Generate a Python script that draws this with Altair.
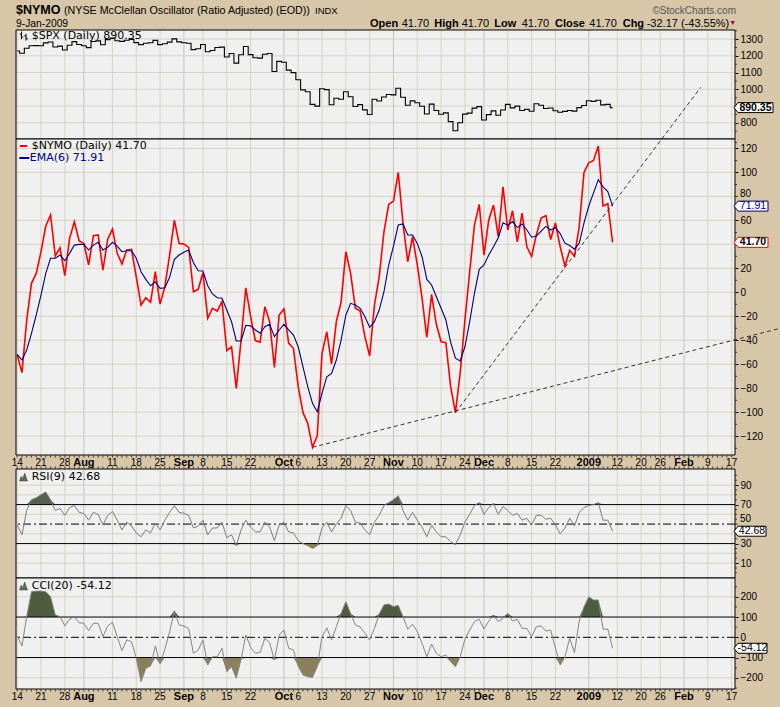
import altair as alt
import pandas as pd

# ---------------- data (trading days from 14-Jul-2008 to 9-Jan-2009) ----------------
nymo = [-52.3, -67.0, -23.1, 7.5, 15.8, 33.9, 55.3, 64.5, 30.3, 37.2,
        13.9, 45.0, 58.9, 43.1, 40.8, 22.8, 47.2, 47.8, 18.6, 44.2,
        52.8, 32.5, 23.6, 35.3, 35.8, 13.0, -10.6, -4.5, -8.3, 17.2,
        -9.8, 4.7, 31.1, 60.3, 40.8, 40.3, 37.5, 0.5, 2.5, 16.3,
        -21.7, -13.3, -15.6, -7.8, -48.7, -45.4, -80.1, -39.8, 3.8, -20.0,
        -40.2, -41.5, -12.0, -24.5, -62.6, -18.9, -13.9, -42.6, -46.7, -78.7,
        -100.4, -109.3, -129.3, -119.6, -50.9, -32.9, -59.8, -24.5, -8.3, 33.9,
        15.8, -13.3, -15.6, -37.0, -53.1, -10.6, 13.0, 50.5, 73.4, 76.1,
        100.1, 57.5, 25.5, 46.4, 22.8, -5.0, -37.5, -1.7, -26.7, -41.2,
        -42.0, -78.7, -100.4, -67.6, -23.1, 17.2, 56.1, 73.4, 31.1, 60.3,
        72.8, 46.4, 88.0, 52.0, 68.0, 42.0, 66.0, 38.0, 30.0, 48.0,
        62.0, 64.0, 44.0, 58.0, 38.0, 22.0, 35.0, 30.0, 55.0, 100.0,
        108.0, 110.0, 122.0, 72.0, 73.87, 41.70]

ema6 = [-51.7, -56.5, -48.1, -34.2, -18.9, -2.3, 15.8, 28.4, 28.4, 31.1,
        26.4, 32.5, 39.4, 40.0, 40.0, 35.3, 39.4, 41.7, 35.3, 37.5,
        41.7, 38.6, 33.9, 34.7, 34.7, 28.4, 17.2, 10.8, 5.5, 8.8,
        3.3, 3.8, 12.5, 27.5, 31.1, 33.4, 35.3, 24.7, 18.0, 17.8,
        5.5, -1.4, -4.5, -5.0, -14.8, -24.5, -40.6, -40.6, -27.5, -28.0,
        -31.4, -34.2, -28.7, -26.7, -37.0, -31.4, -26.7, -31.4, -35.6, -45.4,
        -62.1, -78.7, -92.6, -99.6, -84.2, -70.4, -67.6, -56.5, -39.8, -18.9,
        -9.2, -10.6, -13.3, -20.3, -29.2, -24.5, -14.8, 0.5, 22.8, 38.6,
        56.1, 57.0, 47.8, 47.8, 40.8, 29.7, 10.8, 6.1, -3.7, -13.3,
        -23.1, -41.5, -55.0, -57.3, -45.4, -24.5, -0.8, 19.2, 22.8, 31.1,
        38.0, 45.5, 58.0, 56.0, 59.0, 54.0, 57.0, 52.0, 46.0, 47.0,
        51.0, 55.0, 52.0, 54.0, 49.0, 41.0, 39.0, 36.0, 41.0, 58.0,
        72.0, 83.0, 94.0, 88.0, 84.0, 71.91]

spx = [1228.3, 1214.9, 1245.4, 1260.3, 1260.7, 1260.0, 1277.0, 1282.2, 1252.5, 1257.8,
       1234.4, 1263.2, 1284.3, 1267.4, 1260.3, 1249.0, 1284.9, 1289.2, 1266.1, 1296.3,
       1305.3, 1289.6, 1285.8, 1292.9, 1298.2, 1278.6, 1266.7, 1274.5, 1277.7, 1292.2,
       1266.8, 1271.5, 1281.7, 1300.7, 1282.8, 1277.6, 1274.9, 1236.8, 1242.3, 1267.8,
       1224.5, 1232.0, 1249.1, 1251.7, 1192.7, 1213.6, 1156.4, 1206.5, 1255.1, 1207.1,
       1188.2, 1185.9, 1209.2, 1213.3, 1106.4, 1166.4, 1161.1, 1114.3, 1099.2, 1056.9,
       996.2, 984.9, 909.9, 899.2, 1003.4, 998.0, 907.8, 946.4, 940.6, 985.4,
       955.1, 896.8, 908.1, 876.8, 848.9, 940.5, 930.1, 954.1, 968.8, 966.3,
       1005.8, 952.8, 904.9, 931.0, 919.2, 899.0, 852.3, 911.3, 873.3, 850.8,
       859.1, 806.6, 752.4, 800.0, 851.8, 857.4, 887.7, 896.2, 816.2, 848.8,
       870.7, 845.2, 876.1, 909.7, 888.7, 899.2, 873.6, 879.7, 868.6, 913.2,
       904.4, 885.3, 887.9, 871.6, 863.2, 868.2, 872.8, 869.4, 890.6, 903.3,
       931.8, 927.5, 934.7, 906.7, 909.7, 890.35]

rsi9 = [49, 39, 64, 75, 77, 80, 83, 75, 64, 66,
        59, 67, 69, 62, 61, 54, 62, 60, 49, 59,
        63, 54, 44, 52, 48, 41, 37, 44, 41, 51,
        44, 54, 62, 69, 62, 61, 59, 46, 48, 54,
        39, 46, 46, 52, 36, 39, 28, 44, 54, 47,
        42, 42, 52, 47, 33, 49, 52, 42, 41, 33,
        30, 28, 25, 28, 46, 52, 42, 50, 56, 69,
        64, 52, 51, 44, 39, 52, 59, 69, 72, 75,
        79, 64, 54, 62, 54, 47, 37, 49, 42, 37,
        37, 32, 29, 39, 52, 60, 69, 72, 60, 67,
        71, 60, 68, 64, 59, 61, 54, 56, 49, 59,
        59, 55, 56, 49, 40, 46, 56, 48, 62, 67,
        69, 70, 72, 54, 54, 42.68]

cci20 = [6, -43, 102, 225, 228, 228, 225, 200, 110, 102,
         56, 89, 102, 72, 69, 33, 69, 69, 3, 56,
         74, 3, -66, -13, -22, -104, -219, -153, -142, -43,
         -132, -59, 28, 131, 61, 56, 44, -79, -63, -13,
         -137, -96, -96, -54, -170, -145, -202, -109, 11, -49,
         -79, -74, -5, -27, -112, 11, 36, -54, -63, -142,
         -186, -195, -198, -145, 3, 47, -13, 52, 118, 176,
         118, 61, 52, 20, -13, 44, 115, 160, 164, 151,
         158, 102, 40, 64, 28, -30, -96, -33, -79, -96,
         -87, -120, -145, -96, -10, 36, 77, 89, 41, 80,
         110, 77, 94, 118, 80, 89, 44, 44, 3, 52,
         56, 31, 36, -54, -137, -96, -5, -76, 80, 150,
         200, 184, 184, 40, 40, -54.12]

tick_idx = [0, 5, 10, 14, 20, 25, 30, 35, 39, 44, 49, 56, 59, 64, 69, 74, 79, 84, 89, 94,
            98, 103, 108, 113, 120, 126, 131, 135, 140, 145, 150]
tick_lbl = ["14", "21", "28", "Aug", "11", "18", "25", "Sep", "8", "15", "22", "Oct", "6",
            "13", "20", "27", "Nov", "10", "17", "24", "Dec", "8", "15", "22", "2009", "12",
            "20", "26", "Feb", "9", "17"]
months = ["Aug", "Sep", "Oct", "Nov", "Dec", "2009", "Feb"]
n_slots = 151

spx_labels = [800, 1000, 1100, 1200, 1300]
spx_grid = [800, 900, 1000, 1100, 1200, 1300]
main_labels = [-120, -100, -80, -60, -40, -20, 0, 20, 60, 100, 120]
main_nudged = [80]            # drawn a little higher, clear of the 71.91 box
main_grid = [-120, -100, -80, -60, -40, -20, 0, 20, 40, 60, 80, 100, 120]
rsi_labels = [10, 30, 70, 90]
rsi_nudged = [50]             # drawn a little higher, clear of the 42.68 box
rsi_grid = [10, 20, 40, 60, 80, 90]
cci_labels = [-200, -100, 0, 100, 200]
cci_grid = [-200, 200]

trend_a_i = [62, 160]
trend_a_v = [-129.3, -30.2]
trend_b_i = [92, 143.5]
trend_b_v = [-100.4, 171.0]

# ---------------- styling ----------------
TAN = "#d8c6a8"
BG = "#f0f0f0"
GRID = "#d8d3c2"
GRIDM = "#c4c3bc"
ARIAL = "Liberation Sans"
VERD = "DejaVu Sans"
LEG = 11
W, H = 719, 707
XD = [-0.25, 150.7]
xs = alt.Scale(domain=XD, nice=False, zero=False)


def X(f):
    return alt.X(f, type="quantitative", scale=xs, axis=None)


class P:
    def __init__(self, dom, rng, labels):
        self.lo, self.hi = dom
        self.sc = alt.Scale(domain=dom, range=rng, nice=False, zero=False)
        self.ax = alt.Axis(orient="right", values=labels, grid=False, domain=False,
                           ticks=True, tickSize=3, tickColor="black", tickWidth=1,
                           labelColor="black", labelFont=ARIAL, labelFontSize=10,
                           labelPadding=2, title=None, labelOverlap=False, format="d",
                           labelFlush=False, labelBound=False)

    def Y(self, f):
        return alt.Y(f, type="quantitative", scale=self.sc, axis=self.ax)


SPX = P([703, 1354], [139, 30], spx_labels)
MAIN = P([-135.7, 127.9], [455, 139], main_labels)
RSI = P([-5.3, 106.5], [578, 469], rsi_labels)
CCI = P([-255.3, 292.8], [689, 578], cci_labels)

base_df = pd.DataFrame({"i": list(range(len(nymo))), "nymo": nymo, "ema": ema6,
                        "spx": spx, "rsi": rsi9, "cci": cci20})


def frame(p, border=False):
    fr = pd.DataFrame({"x0": [XD[0]], "x1": [XD[1]], "y0": [p.lo], "y1": [p.hi]})
    if border:
        m = alt.Chart(fr).mark_rect(fillOpacity=0, stroke="black", strokeWidth=1)
    else:
        m = alt.Chart(fr).mark_rect(fill=BG)
    return m.encode(x=X("x0"), x2="x1", y=p.Y("y0"), y2="y1")


def grids(p, hvals):
    out = []
    for major in (False, True):
        idx = [i for i, l in zip(tick_idx, tick_lbl) if (l in months) == major]
        d = pd.DataFrame({"i": idx, "y0": p.lo, "y1": p.hi})
        out.append(alt.Chart(d).mark_rule(color=GRIDM if major else GRID, strokeWidth=1)
                   .encode(x=X("i"), y=p.Y("y0"), y2="y1"))
    d = pd.DataFrame({"v": hvals})
    out.append(alt.Chart(d).mark_rule(color=GRID, strokeWidth=1).encode(y=p.Y("v")))
    return out


def minor_ticks(p, vals):
    d = pd.DataFrame({"x": XD[1], "v": vals})
    return alt.Chart(d).mark_tick(orient="horizontal", size=2, thickness=1, color="black",
                                  xOffset=1).encode(x=X("x"), y=p.Y("v"))


def nudged_labels(p, vals, dy):
    d = pd.DataFrame({"x": XD[1], "v": vals, "t": [str(v) for v in vals]})
    tk = alt.Chart(d).mark_tick(orient="horizontal", size=3, thickness=1, color="black",
                                xOffset=1.5).encode(x=X("x"), y=p.Y("v"))
    tx = alt.Chart(d).mark_text(font=ARIAL, fontSize=10, color="black", align="left",
                                baseline="middle", dx=5, dy=dy).encode(
        x=X("x"), y=p.Y("v"), text="t:N")
    return [tk, tx]


def vbox(p, val, lbl, w, stroke, tcolor, bold):
    h = 5.0 / (w / 2.0)
    k = -1 + 8.0 / w
    path = f"M-1,0L{k:.3f},{-h:.3f}L1,{-h:.3f}L1,{h:.3f}L{k:.3f},{h:.3f}Z"
    d = pd.DataFrame({"v": [val], "t": [lbl]})
    box = alt.Chart(d).mark_point(shape=path, size=w * w, fill="white", stroke=stroke,
                                  strokeWidth=1, opacity=1, fillOpacity=1).encode(
        x=alt.value(718 + w / 2.0), y=p.Y("v"))
    txt = alt.Chart(d).mark_text(font=ARIAL, fontSize=10.5,
                                 fontWeight="bold" if bold else "normal",
                                 color=tcolor, align="center", baseline="middle").encode(
        x=alt.value(718 + 2 + w / 2.0), y=p.Y("v"), text="t:N")
    return [box, txt]


def T(s, x, y, size=11, weight="normal", font=ARIAL, color="black", align="left",
      baseline="alphabetic"):
    return alt.Chart(pd.DataFrame({"t": [s]})).mark_text(
        font=font, fontSize=size, fontWeight=weight, color=color, align=align,
        baseline=baseline).encode(x=alt.value(x), y=alt.value(y), text="t:N")


def date_labels(p, ybase, dy):
    d = pd.DataFrame({"i": tick_idx, "t": tick_lbl, "yb": ybase})
    d["m"] = d["t"].isin(months)
    days = alt.Chart(d[~d["m"]]).mark_text(font=ARIAL, fontSize=10, color="black",
                                           baseline="middle", dy=dy).encode(
        x=X("i"), y=p.Y("yb"), text="t:N")
    mons = alt.Chart(d[d["m"]]).mark_text(font=ARIAL, fontSize=11, fontWeight="bold",
                                          color="black", baseline="middle", dy=dy).encode(
        x=X("i"), y=p.Y("yb"), text="t:N")
    return [days, mons]


def day_ticks(p, yval, off):
    d = pd.DataFrame({"i": list(range(n_slots)), "yb": yval})
    return alt.Chart(d).mark_tick(orient="vertical", size=2, thickness=1, color="black",
                                  yOffset=off).encode(x=X("i"), y=p.Y("yb"))


def icon(x, y):
    path = "M-1,1L-0.6,-0.2L-0.2,0.4L0.3,-1L1,1Z"
    return alt.Chart(pd.DataFrame({"a": [0]})).mark_point(
        shape=path, size=64, fill="#5d6a55", stroke="#444", strokeWidth=0.5,
        opacity=1).encode(x=alt.value(x), y=alt.value(y))


def bars_icon(x, y):
    path = ("M-0.55,-1L-0.55,0.7M-0.95,-0.4L-0.55,-0.4M-0.55,0.2L-0.15,0.2"
            "M0.45,-0.5L0.45,1M0.05,0L0.45,0M0.45,0.6L0.85,0.6")
    return alt.Chart(pd.DataFrame({"a": [0]})).mark_point(
        shape=path, size=81, filled=False, stroke="black", strokeWidth=1,
        opacity=1).encode(x=alt.value(x), y=alt.value(y))


def dash(x1, x2, y, color):
    return alt.Chart(pd.DataFrame({"a": [0]})).mark_rule(color=color, strokeWidth=2).encode(
        x=alt.value(x1), x2=alt.value(x2), y=alt.value(y))


# ---------------- header ----------------
header = [
    T("$NYMO", 0, 13.5, 12.5, "bold"),
    T("(NYSE McClellan Oscillator (Ratio Adjusted) (EOD))", 48, 13.5, 10.7),
    T("INDX", 299, 13.5, 9.5),
    T("9-Jan-2009", 0, 26.5, 10.3),
    T("\u00a9StockCharts.com", 720, 14, 10, color="#555555", align="right"),
    T("Open", 354, 27, 11, "bold"), T("41.70", 385.7, 27, 11),
    T("High", 418.3, 27, 11, "bold"), T("41.70", 445.7, 27, 11),
    T("Low", 478.3, 27, 11, "bold"), T("41.70", 505.7, 27, 11),
    T("Close", 539, 27, 11, "bold"), T("41.70", 573.3, 27, 11),
    T("Chg", 606.7, 27, 11, "bold"), T("-32.17 (-43.55%)", 630.7, 27, 11),
    T("\u25bc", 716.7, 23, 7, color="#a0002a", align="center", baseline="middle"),
]

# ---------------- SPX panel ----------------
spx_layers = [frame(SPX)] + grids(SPX, spx_grid) + [
    alt.Chart(base_df).mark_line(interpolate="step", color="black", strokeWidth=1.1)
    .encode(x=X("i"), y=SPX.Y("spx")),
    bars_icon(8, 36),
    T("$SPX (Daily) 890.35", 15.7, 36, LEG, font=VERD, baseline="middle"),
    frame(SPX, border=True),
    minor_ticks(SPX, [750, 850, 950, 1050, 1150, 1250, 1350]),
] + vbox(SPX, 890.35, "890.35", 39, "black", "black", True)
spx_layer = alt.layer(*spx_layers)

# ---------------- main panel ----------------
ta = pd.DataFrame({"i": trend_a_i, "v": trend_a_v})
tb = pd.DataFrame({"i": trend_b_i, "v": trend_b_v})
main_layers = [frame(MAIN)] + grids(MAIN, main_grid) + [
    alt.Chart(base_df).mark_line(color="#ff0000", strokeWidth=1.6).encode(x=X("i"), y=MAIN.Y("nymo")),
    alt.Chart(base_df).mark_line(color="#000080", strokeWidth=1.1).encode(x=X("i"), y=MAIN.Y("ema")),
    alt.Chart(ta).mark_line(color="#333333", strokeWidth=1, strokeDash=[4, 3], clip=False)
    .encode(x=X("i"), y=MAIN.Y("v")),
    alt.Chart(tb).mark_line(color="#333333", strokeWidth=1, strokeDash=[4, 3], clip=False)
    .encode(x=X("i"), y=MAIN.Y("v")),
    dash(4, 11, 146, "#ff0000"),
    T("$NYMO (Daily) 41.70", 15.7, 146, LEG, font=VERD, baseline="middle"),
    dash(3.3, 13.3, 158, "#000080"),
    T("EMA(6) 71.91", 13.7, 158, LEG, font=VERD, color="#000080", baseline="middle"),
    frame(MAIN, border=True),
    minor_ticks(MAIN, [-130, -110, -90, -70, -50, -30, -10, 10, 30, 50, 70, 90, 110, 125]),
    day_ticks(MAIN, MAIN.lo, 1.5),
] + nudged_labels(MAIN, main_nudged, -2) + date_labels(MAIN, MAIN.lo, 7.5) \
  + vbox(MAIN, 71.91, "71.91", 34, "#000080", "#000080", False) \
  + vbox(MAIN, 41.70, "41.70", 34, "#ff0000", "black", True)
main_layer = alt.layer(*main_layers)

# ---------------- RSI panel ----------------
rsi_layers = [frame(RSI)] + grids(RSI, rsi_grid) + [
    alt.Chart(base_df).transform_calculate(a="max(datum.rsi, 70)", b="70")
    .mark_area(color="#55614a", opacity=1).encode(x=X("i"), y=RSI.Y("a"), y2="b:Q"),
    alt.Chart(base_df).transform_calculate(a="min(datum.rsi, 30)", b="30")
    .mark_area(color="#8b7f5c", opacity=1).encode(x=X("i"), y=RSI.Y("a"), y2="b:Q"),
    alt.Chart(pd.DataFrame({"v": [30, 70]})).mark_rule(color="black", strokeWidth=1)
    .encode(y=RSI.Y("v")),
    alt.Chart(pd.DataFrame({"v": [50]})).mark_rule(color="black", strokeWidth=1,
                                                   strokeDash=[8, 3, 2, 3]).encode(y=RSI.Y("v")),
    alt.Chart(base_df).mark_line(color="#7c7c7c", strokeWidth=1).encode(x=X("i"), y=RSI.Y("rsi")),
    icon(7.5, 477),
    T("RSI(9) 42.68", 15.7, 477, LEG, font=VERD, baseline="middle"),
    frame(RSI, border=True),
    minor_ticks(RSI, [0, 5, 15, 20, 25, 35, 40, 45, 55, 60, 65, 75, 80, 85, 95, 100]),
    day_ticks(RSI, RSI.hi, -1.5),
] + nudged_labels(RSI, rsi_nudged, -5.5) \
  + vbox(RSI, 42.68, "42.68", 32, "black", "black", False)
rsi_layer = alt.layer(*rsi_layers)

# ---------------- CCI panel ----------------
cci_layers = [frame(CCI)] + grids(CCI, cci_grid) + [
    alt.Chart(base_df).transform_calculate(a="max(datum.cci, 100)", b="100")
    .mark_area(color="#4e5d40", opacity=1).encode(x=X("i"), y=CCI.Y("a"), y2="b:Q"),
    alt.Chart(base_df).transform_calculate(a="min(datum.cci, -100)", b="-100")
    .mark_area(color="#8b7f5c", opacity=1).encode(x=X("i"), y=CCI.Y("a"), y2="b:Q"),
    alt.Chart(pd.DataFrame({"v": [-100, 100]})).mark_rule(color="black", strokeWidth=1)
    .encode(y=CCI.Y("v")),
    alt.Chart(pd.DataFrame({"v": [0]})).mark_rule(color="black", strokeWidth=1,
                                                  strokeDash=[8, 3, 2, 3]).encode(y=CCI.Y("v")),
    alt.Chart(base_df).mark_line(color="#858585", strokeWidth=1).encode(x=X("i"), y=CCI.Y("cci")),
    icon(7.5, 586),
    T("CCI(20) -54.12", 15.7, 586, LEG, font=VERD, baseline="middle"),
    frame(CCI, border=True),
    minor_ticks(CCI, [-250, -150, -50, 50, 150, 250]),
    day_ticks(CCI, CCI.lo, 1.5),
] + date_labels(CCI, CCI.lo, 8) \
  + vbox(CCI, -54.12, "-54.12", 33, "black", "black", False)
cci_layer = alt.layer(*cci_layers)

chart = alt.layer(*header, spx_layer, main_layer, rsi_layer, cci_layer).resolve_scale(
    y="independent").resolve_axis(y="independent").properties(
    width=W, height=H,
    padding={"left": 16, "top": 0, "right": 45, "bottom": 0},
    autosize=alt.AutoSizeParams(type="none"),
    background=TAN,
).configure_view(strokeWidth=0)

chart.save("out.html", embed_options={"renderer": "svg", "actions": False})
